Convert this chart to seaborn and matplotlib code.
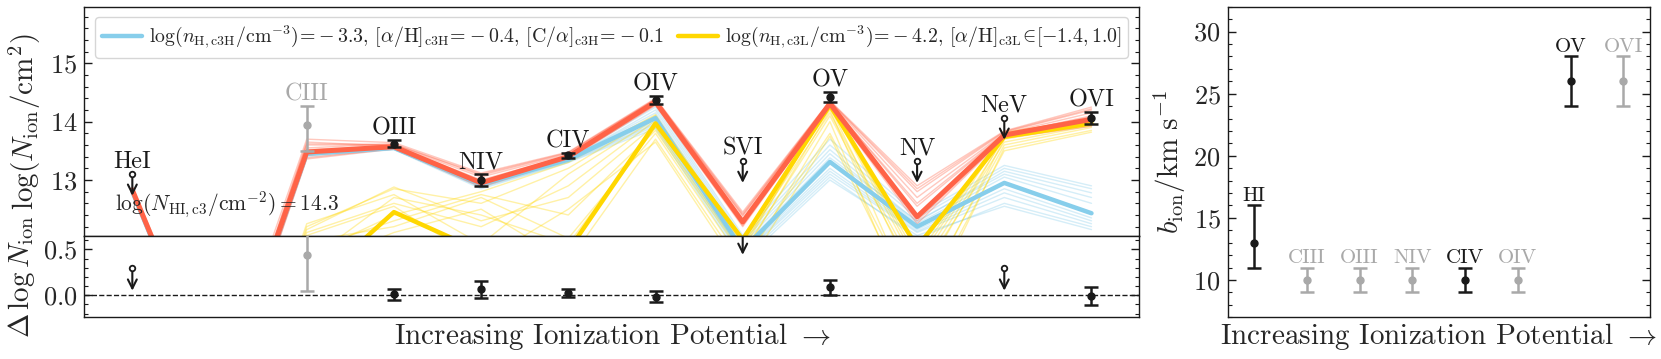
import numpy as np
import pandas as pd
import matplotlib
matplotlib.use("Agg")
import matplotlib.pyplot as plt
from matplotlib.ticker import MultipleLocator, NullLocator
import seaborn as sns

# ions along the x axis (index 1 is an unlabelled ion far below the plot range)
ions = ["HeI", "", "CIII", "OIII", "NIV", "CIV", "OIV", "SVI", "OV", "NV", "NeV", "OVI"]
xpos = list(range(len(ions)))

# best models
logN_total = [12.83, 9.2, 13.48, 13.57, 12.95, 13.40, 14.34, 12.28, 14.31, 12.37, 13.77, 14.04]
logN_c3H = [12.80, 9.2, 13.45, 13.55, 12.93, 13.35, 14.06, 11.80, 13.31, 12.20, 12.95, 12.43]
logN_c3L = [10.5, 8.0, 11.10, 12.45, 11.78, 11.79, 13.97, 11.98, 14.28, 11.85, 13.74, 13.97]

# posterior samples
samples_c3H = [
    [12.82, 9.3, 13.47, 13.56, 12.96, 13.38, 14.25, 12.00, 13.60, 12.35, 13.20, 12.85],
    [12.78, 9.1, 13.43, 13.53, 12.88, 13.32, 13.95, 11.70, 13.10, 12.10, 12.70, 12.25],
    [12.80, 9.2, 13.46, 13.55, 12.92, 13.36, 14.15, 11.90, 13.45, 12.25, 13.05, 12.60],
    [12.76, 9.0, 13.40, 13.52, 12.85, 13.30, 13.88, 11.60, 13.00, 12.05, 12.55, 12.15],
    [12.83, 9.4, 13.49, 13.57, 12.98, 13.40, 14.30, 12.05, 13.70, 12.40, 13.25, 12.90],
    [12.79, 9.2, 13.44, 13.54, 12.90, 13.34, 14.00, 11.75, 13.20, 12.15, 12.85, 12.35],
    [12.81, 9.3, 13.46, 13.56, 12.94, 13.37, 14.10, 11.85, 13.38, 12.30, 13.10, 12.70],
    [12.77, 9.1, 13.42, 13.53, 12.87, 13.31, 13.92, 11.65, 13.05, 12.00, 12.60, 12.20],
    [12.80, 9.2, 13.45, 13.55, 12.91, 13.35, 14.20, 11.95, 13.52, 12.28, 13.15, 12.78],
    [12.79, 9.1, 13.44, 13.54, 12.89, 13.33, 13.97, 11.72, 13.15, 12.12, 12.78, 12.30],
]
samples_c3L = [
    [10.0, 7.5, 12.20, 12.85, 12.60, 13.20, 14.10, 11.95, 14.30, 11.50, 13.80, 14.02],
    [10.3, 7.8, 11.80, 12.30, 12.75, 12.40, 13.85, 11.70, 14.20, 10.80, 13.70, 13.95],
    [10.6, 8.1, 12.10, 12.60, 12.20, 12.90, 14.02, 12.00, 14.25, 11.20, 13.75, 14.00],
    [9.8, 7.3, 11.50, 12.10, 12.50, 11.60, 13.70, 11.50, 14.00, 10.50, 13.55, 13.85],
    [10.4, 7.9, 12.25, 12.75, 11.90, 13.10, 14.05, 11.85, 14.28, 11.70, 13.78, 14.00],
    [10.1, 7.6, 11.95, 12.20, 12.70, 12.00, 13.80, 11.60, 13.80, 10.90, 13.60, 13.90],
    [10.5, 8.0, 12.15, 12.88, 12.30, 12.70, 13.95, 11.90, 14.15, 11.40, 13.72, 13.98],
    [9.9, 7.4, 11.70, 12.40, 12.80, 13.30, 14.12, 11.80, 14.32, 11.60, 13.82, 14.04],
    [10.2, 7.7, 12.05, 12.55, 11.60, 12.50, 13.65, 11.40, 13.75, 10.70, 13.50, 13.82],
    [10.6, 8.1, 11.60, 12.70, 12.40, 11.90, 13.90, 11.75, 14.10, 11.30, 13.65, 13.93],
]
samples_total = [
    [12.88, 9.4, 13.70, 13.64, 13.12, 13.48, 14.40, 12.45, 14.36, 12.90, 13.84, 14.25],
    [12.78, 9.0, 13.36, 13.53, 12.88, 13.35, 14.28, 12.20, 14.27, 12.25, 13.72, 13.92],
    [12.85, 9.3, 13.60, 13.60, 13.05, 13.44, 14.37, 12.38, 14.34, 12.70, 13.80, 14.15],
    [12.80, 9.1, 13.42, 13.55, 12.92, 13.38, 14.31, 12.25, 14.29, 12.40, 13.75, 14.00],
    [12.86, 9.3, 13.55, 13.62, 13.08, 13.46, 14.39, 12.42, 14.35, 12.80, 13.82, 14.20],
    [12.79, 9.0, 13.38, 13.54, 12.90, 13.36, 14.29, 12.22, 14.28, 12.30, 13.73, 13.95],
    [12.84, 9.2, 13.52, 13.59, 13.00, 13.42, 14.35, 12.33, 14.32, 12.55, 13.78, 14.10],
    [12.82, 9.2, 13.65, 13.58, 12.98, 13.41, 14.33, 12.30, 14.31, 12.60, 13.79, 14.08],
    [12.87, 9.3, 13.62, 13.61, 13.10, 13.47, 14.38, 12.40, 14.35, 12.85, 13.83, 14.22],
]

# measured column densities
det_idx = [2, 3, 4, 5, 6, 8, 11]
det_logN = [13.95, 13.62, 13.00, 13.42, 14.37, 14.43, 14.06]
det_err_lo = [0.45, 0.05, 0.10, 0.04, 0.07, 0.09, 0.10]
det_err_hi = [0.31, 0.06, 0.10, 0.04, 0.07, 0.07, 0.10]
det_color = ["darkgrey", "k", "k", "k", "k", "k", "k"]
lim_idx = [0, 7, 9, 10]
lim_logN = [13.11, 13.33, 13.33, 14.07]

# residuals
res_val = [0.44, 0.01, 0.065, 0.02, -0.015, 0.087, -0.01]
res_err_lo = [0.39, 0.06, 0.10, 0.04, 0.055, 0.085, 0.10]
res_err_hi = [0.35, 0.055, 0.095, 0.045, 0.06, 0.075, 0.10]
res_lim = [0.30, 0.69, 0.96, 0.30]

NHI_text = r"$\log(N_{\rm HI,c3}/{\rm cm^{-2}}) = 14.3$"
label_c3H = (r"$\log(n_{\rm H,c3H}/{\rm cm^{-3}})\!=\!-3.3$, $[\alpha/{\rm H}]_{\rm c3H}\!=\!-0.4$, "
             r"$[{\rm C}/\alpha]_{\rm c3H}\!=\!-0.1$")
label_c3L = r"$\log(n_{\rm H,c3L}/{\rm cm^{-3}})\!=\!-4.2$, $[\alpha/{\rm H}]_{\rm c3L}\!\in\![-1.4, 1.0]$"

# Doppler parameters
b_ions = ["HI", "CIII", "OIII", "NIV", "CIV", "OIV", "OV", "OVI"]
b_val = [13, 10, 10, 10, 10, 10, 26, 26]
b_err_lo = [2, 1, 1, 1, 1, 1, 2, 2]
b_err_hi = [3, 1, 1, 1, 1, 1, 2, 2]
b_color = ["k", "darkgrey", "darkgrey", "darkgrey", "k", "darkgrey", "k", "darkgrey"]

sns.set_theme(style="ticks")
plt.rcParams["font.family"] = ["serif"]
plt.rcParams["font.serif"] = ["cmr10"]
plt.rcParams["mathtext.fontset"] = "cm"
plt.rcParams["axes.formatter.use_mathtext"] = True
plt.rcParams["axes.edgecolor"] = "k"
plt.rcParams["axes.linewidth"] = 1.0

c_H, c_L, c_tot = "skyblue", "gold", "tomato"


def to_frame(samples):
    rows = []
    for k, s in enumerate(samples):
        for i, v in enumerate(s):
            rows.append((k, i, v))
    return pd.DataFrame(rows, columns=["sample", "x", "logN"])


def arrow_down(ax, x, y, length):
    ax.plot(x, y, "o", ms=4, mfc="white", mec="k", mew=1.3, zorder=6)
    ann = ax.annotate("", xy=(x, y - length), xytext=(x, y),
                      arrowprops=dict(arrowstyle="->", color="k", lw=1.5,
                                      shrinkA=0, shrinkB=0, mutation_scale=16))
    ann.arrow_patch.set_clip_box(ax.bbox)
    ann.arrow_patch.set_clip_on(True)


fig = plt.figure(figsize=(16.61, 3.59), dpi=100)
ax_top = fig.add_axes([0.0508, 0.3426, 0.6352, 0.6387])
ax_res = fig.add_axes([0.0508, 0.1162, 0.6352, 0.2264])
ax_b = fig.add_axes([0.7391, 0.1162, 0.2542, 0.8651])

# thin sample lines
for samples, col in [(samples_c3H, c_H), (samples_c3L, c_L), (samples_total, c_tot)]:
    sns.lineplot(data=to_frame(samples), x="x", y="logN", units="sample", estimator=None,
                 color=col, lw=1.0, alpha=0.35, legend=False, ax=ax_top)

sns.lineplot(x=xpos, y=logN_c3H, color=c_H, lw=3.2, ax=ax_top)
h_line = ax_top.lines[-1]
sns.lineplot(x=xpos, y=logN_c3L, color=c_L, lw=3.2, ax=ax_top)
l_line = ax_top.lines[-1]
sns.lineplot(x=xpos, y=logN_total, color=c_tot, lw=3.6, ax=ax_top)

for i, v, lo, hi, c in zip(det_idx, det_logN, det_err_lo, det_err_hi, det_color):
    ax_top.errorbar(i, v, yerr=[[lo], [hi]], fmt="o", color=c, ms=5, capsize=5,
                    capthick=1.8, elinewidth=1.8, zorder=5)
    ax_top.text(i, v + hi + 0.10, ions[i], color=c, fontsize=17.5, ha="center", va="baseline")
for i, v in zip(lim_idx, lim_logN):
    arrow_down(ax_top, i, v, 0.38)
    ax_top.text(i, v + 0.10, ions[i], color="k", fontsize=17.5, ha="center", va="baseline")

ax_top.text(-0.2, 12.57, NHI_text, fontsize=15.5, ha="left", va="center")
ax_top.legend(handles=[h_line, l_line], labels=[label_c3H, label_c3L], loc="upper center",
              ncol=2, fontsize=14.3, handlelength=2.0, handletextpad=0.35, columnspacing=0.7,
              borderpad=0.35)

ax_top.set_xlim(-0.55, 11.55)
ax_top.set_ylim(12.04, 15.97)
ax_top.set_ylabel(r"$\log(N_{\rm ion}/{\rm cm^2})$", fontsize=21)
ax_top.set_xlabel("")

# residual panel
ax_res.axhline(0, ls="--", color="k", lw=1.0, zorder=1)
for i, v, lo, hi, c in zip(det_idx, res_val, res_err_lo, res_err_hi, det_color):
    ax_res.errorbar(i, v, yerr=[[lo], [hi]], fmt="o", color=c, ms=5, capsize=5,
                    capthick=1.8, elinewidth=1.8, zorder=5)
for i, v in zip(lim_idx, res_lim):
    arrow_down(ax_res, i, v, 0.25)
ax_res.set_xlim(-0.55, 11.55)
ax_res.set_ylim(-0.24, 0.645)
ax_res.set_ylabel(r"$\Delta\,\log N_{\rm ion}$", fontsize=21)
ax_res.set_xlabel(r"Increasing Ionization Potential $\rightarrow$", fontsize=21, labelpad=3)

# b panel
for k, (v, lo, hi, c) in enumerate(zip(b_val, b_err_lo, b_err_hi, b_color)):
    ax_b.errorbar(k, v, yerr=[[lo], [hi]], fmt="o", color=c, ms=5, capsize=5,
                  capthick=1.8, elinewidth=1.8)
    ax_b.text(k, v + hi + 0.33, b_ions[k], color=c, fontsize=15, ha="center", va="baseline")
ax_b.set_xlim(-0.5, 7.5)
ax_b.set_ylim(7, 32)
ax_b.set_ylabel(r"$b_{\rm ion}/{\rm km\ s^{-1}}$", fontsize=21)
ax_b.set_xlabel(r"Increasing Ionization Potential $\rightarrow$", fontsize=21, labelpad=3)

ax_top.yaxis.set_major_locator(MultipleLocator(1))
ax_top.yaxis.set_minor_locator(MultipleLocator(0.2))
ax_res.yaxis.set_major_locator(MultipleLocator(0.5))
ax_res.yaxis.set_minor_locator(MultipleLocator(0.1))
ax_b.yaxis.set_major_locator(MultipleLocator(5))
ax_b.yaxis.set_minor_locator(MultipleLocator(1))

for ax in [ax_top, ax_res, ax_b]:
    ax.xaxis.set_major_locator(NullLocator())
    ax.xaxis.set_minor_locator(NullLocator())
    ax.tick_params(which="both", direction="in", left=True, right=True, top=False,
                   bottom=False, labelsize=19, pad=5, color="k")
    ax.tick_params(which="major", length=6, width=1.0)
    ax.tick_params(which="minor", length=3, width=0.8)
    for sp in ax.spines.values():
        sp.set_visible(True)
        sp.set_color("k")

ax_top.yaxis.set_label_coords(-0.039, 0.5)
ax_res.yaxis.set_label_coords(-0.045, 0.5)

fig.savefig("out.png", dpi=100)
